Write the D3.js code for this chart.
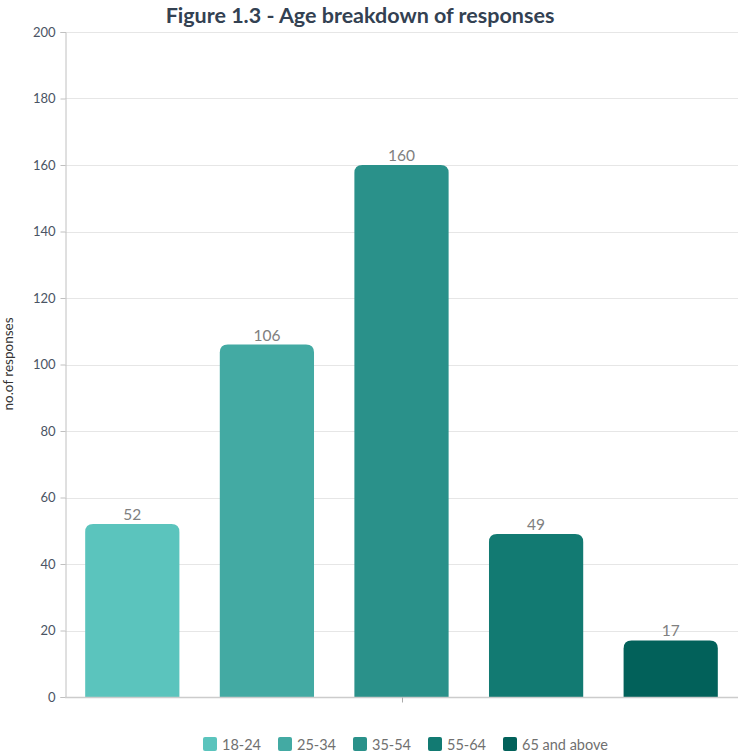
<html>
<head>
<title>age breakdown</title>
<script type="text/javascript" src="https://cdnjs.cloudflare.com/ajax/libs/d3/7.8.5/d3.min.js"></script>
<style>
	body {margin:0px; padding:0px; background:#fff; font-family:Lato, sans-serif;}
	svg text {font-family:Lato, sans-serif;}
</style>
</head>
<body>
<svg id="chart" width="738" height="755"></svg>
<script type="text/javascript">

var categories = ['18-24', '25-34', '35-54', '55-64', '65 and above'];
var values = [52, 106, 160, 49, 17];
var colors = ['#5bc4bd', '#43aaa3', '#2a918a', '#127a72', '#02615a'];
var yTicks = [0, 20, 40, 60, 80, 100, 120, 140, 160, 180, 200];

var W = 738, H = 755;
var margin = {top: 32, right: 0, bottom: 58, left: 65};
var svg = d3.select('#chart');

var x = d3.scaleBand().domain(categories).range([margin.left, W - margin.right]).paddingInner(0.3).paddingOuter(0.15);
var y = d3.scaleLinear().domain([0, 200]).range([H - margin.bottom, margin.top]);

// grid
svg.append('g').selectAll('line').data(yTicks.slice(1)).enter().append('line')
	.attr('x1', margin.left).attr('x2', W - margin.right)
	.attr('y1', function(d) {return Math.round(y(d)) + 0.5})
	.attr('y2', function(d) {return Math.round(y(d)) + 0.5})
	.attr('stroke', '#e6e6e6');

// y axis
var yAxis = svg.append('g').attr('transform', 'translate(' + (margin.left + 0.5) + ',0)')
	.call(d3.axisLeft(y).tickValues(yTicks).tickSize(5).tickPadding(5));
yAxis.select('.domain').attr('stroke', '#c0c0c0');
yAxis.selectAll('.tick line').attr('stroke', '#c0c0c0');
yAxis.selectAll('.tick text').attr('fill', '#4a5464').style('font-size', '13px');

// bars, rounded tops
var r = 8;
svg.append('g').selectAll('path').data(values).enter().append('path')
	.attr('fill', function(d, i) {return colors[i]})
	.attr('d', function(d, i) {
		var x0 = x(categories[i]), x1 = x0 + x.bandwidth();
		var yt = y(d), yb = y(0);
		return 'M' + x0 + ',' + yb + 'L' + x0 + ',' + (yt + r) +
			'Q' + x0 + ',' + yt + ' ' + (x0 + r) + ',' + yt +
			'L' + (x1 - r) + ',' + yt +
			'Q' + x1 + ',' + yt + ' ' + x1 + ',' + (yt + r) +
			'L' + x1 + ',' + yb + 'Z';
	});

// labels
svg.append('g').selectAll('text').data(values).enter().append('text')
	.attr('x', function(d, i) {return x(categories[i]) + x.bandwidth() / 2})
	.attr('y', function(d) {return y(d) - 4})
	.attr('text-anchor', 'middle')
	.attr('fill', '#808080')
	.style('font-size', '15.5px')
	.text(function(d) {return d});

// x axis line
var yb = Math.round(y(0)) + 0.5;
svg.append('line').attr('x1', margin.left).attr('x2', W - margin.right)
	.attr('y1', yb).attr('y2', yb).attr('stroke', '#cccccc').attr('stroke-width', 1.5);
var cx = Math.round((margin.left + W - margin.right) / 2) + 0.5;
svg.append('line').attr('x1', cx).attr('x2', cx).attr('y1', yb).attr('y2', yb + 5).attr('stroke', '#aaa');

// title
svg.append('text').attr('x', 360).attr('y', 23).attr('text-anchor', 'middle')
	.attr('fill', '#334152').style('font-size', '21.5px').style('font-weight', 'bold')
	.text('Figure 1.3 - Age breakdown of responses');

// y label
svg.append('text').attr('transform', 'translate(13,' + 364 + ') rotate(-90)')
	.attr('text-anchor', 'middle').attr('fill', '#333').style('font-size', '13.5px')
	.text('no.of responses');

// legend
var lx = [203, 278, 353, 428, 503];
var lg = svg.append('g').selectAll('g').data(categories).enter().append('g')
	.attr('transform', function(d, i) {return 'translate(' + lx[i] + ',737)'});
lg.append('rect').attr('width', 14).attr('height', 14).attr('rx', 2)
	.attr('fill', function(d, i) {return colors[i]});
lg.append('text').attr('x', 19).attr('y', 12.5).attr('fill', '#707070').style('font-size', '14.5px')
	.text(function(d) {return d});

</script>
</body>
</html>
